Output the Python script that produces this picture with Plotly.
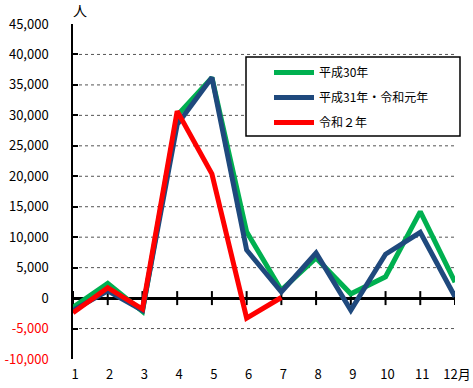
import plotly.graph_objects as go

months = [1, 2, 3, 4, 5, 6, 7, 8, 9, 10, 11, 12]
month_labels = ["1", "2", "3", "4", "5", "6", "7", "8", "9", "10", "11", "12月"]
h30 = [-1500, 2400, -2200, 30000, 36200, 10900, 1300, 6600, 700, 3500, 14200, 2600]
h31_r1 = [-2000, 1200, -2000, 28500, 36200, 7900, 1000, 7400, -2000, 7200, 10800, 200]
r2 = [-2400, 1700, -1800, 30700, 20400, -3300, 100]
series_names = ["平成30年", "平成31年・令和元年", "令和２年"]
series_colors = ["#00B050", "#1F497D", "#FF0000"]
y_ticks = [-10000, -5000, 0, 5000, 10000, 15000, 20000, 25000, 30000, 35000, 40000, 45000]
grid_vals = [v for v in y_ticks if v not in (-10000, 0, 45000)]

def fmt(v):
    s = f"{v:,}"
    if v < 0:
        return f'<span style="color:#FF0000">{s}</span>'
    return s

font_fam = "Noto Sans CJK JP, DejaVu Sans, sans-serif"

# plot area target (page px): x 73..455, y 24..359 (body margin removed via post_script)
L, R, T, B = 73, 455, 24, 359
W, H = 473, 388
PW, PH = R - L, B - T

def px(xp):
    return (xp - 73) / PW

def py(yp):
    return (359 - yp) / PH

fig = go.Figure()

# month tick marks on the zero line
fig.add_trace(go.Scatter(
    x=months, y=[0] * len(months), mode="markers",
    marker=dict(symbol="line-ns", size=10, line=dict(color="black", width=2)),
    showlegend=False, hoverinfo="skip"))

for name, vals, col in zip(series_names, [h30, h31_r1, r2], series_colors):
    fig.add_trace(go.Scatter(
        x=months[:len(vals)], y=vals, mode="lines", name=name,
        line=dict(color=col, width=5), legendgroup=name))

shapes = []
for v in grid_vals:
    shapes.append(dict(type="line", xref="paper", yref="y", x0=0, x1=1, y0=v, y1=v,
                       line=dict(color="#555555", width=1, dash="dot"), layer="below"))
# legend box
shapes.append(dict(type="rect", xref="paper", yref="paper",
                   x0=px(246), x1=px(460), y0=py(136), y1=py(57),
                   line=dict(color="black", width=1.5), fillcolor="white", layer="below"))

fig.update_layout(
    width=W, height=H,
    margin=dict(l=L, r=W - R, t=T, b=H - B, autoexpand=False),
    plot_bgcolor="white", paper_bgcolor="white",
    font=dict(family=font_fam, size=13, color="black"),
    shapes=shapes,
    legend=dict(x=px(269), y=py(58), xanchor="left", yanchor="top",
                bgcolor="rgba(0,0,0,0)", borderwidth=0,
                font=dict(size=12, family=font_fam),
                traceorder="grouped", tracegroupgap=6, itemwidth=40),
    xaxis=dict(range=[1, 12], tickvals=months, ticktext=month_labels,
               showgrid=False, zeroline=False, showline=False,
               ticks="outside", ticklen=3, tickcolor="rgba(0,0,0,0)",
               ticklabelshift=2, tickfont=dict(size=13)),
    yaxis=dict(range=[-10000, 45000], tickvals=y_ticks, ticktext=[fmt(v) for v in y_ticks],
               showgrid=False, zeroline=True, zerolinecolor="black", zerolinewidth=2.5,
               showline=True, linecolor="black", linewidth=1.5,
               ticks="inside", ticklen=5, tickcolor="black", tickwidth=1.5,
               ticklabelstandoff=20, tickfont=dict(size=13)),
    annotations=[dict(text="人", xref="paper", yref="paper", x=px(80), y=1,
                      xanchor="center", yanchor="bottom", yshift=2, showarrow=False,
                      font=dict(size=14))],
)

fig.write_html("out.html", config={"displayModeBar": False},
               post_script="document.body.style.margin='0';")
